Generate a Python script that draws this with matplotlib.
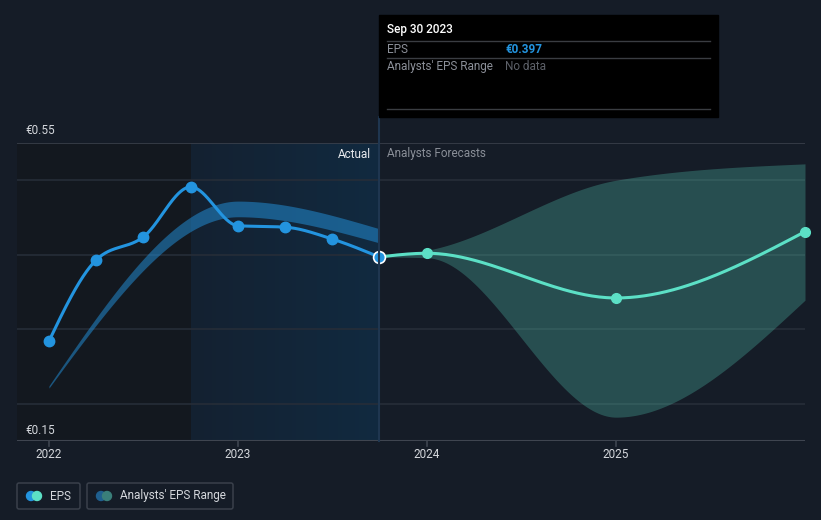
import numpy as np
import matplotlib
matplotlib.use("Agg")
import matplotlib.pyplot as plt
from matplotlib.patches import FancyBboxPatch, Rectangle, Circle
from matplotlib.colors import LinearSegmentedColormap

plt.rcParams['font.family'] = ['Roboto', 'DejaVu Sans']

# ---------------- data ----------------
eps_x = [2022.0, 2022.25, 2022.5, 2022.75, 2023.0, 2023.25, 2023.5, 2023.747]
eps_y = [0.284, 0.393, 0.424, 0.491, 0.439, 0.437, 0.421, 0.397]

past_band_x = [2022.0, 2023.0, 2023.747]
past_band_lo = [0.221, 0.451, 0.416]
past_band_hi = [0.224, 0.472, 0.435]

fc_x = [2023.747, 2024.0, 2025.0, 2026.0]
fc_y = [0.397, 0.402, 0.342, 0.431]
fc_lo = [0.397, 0.396, 0.182, 0.339]
fc_hi = [0.397, 0.406, 0.500, 0.522]

year_ticks = [2022, 2023, 2024, 2025]
year_labels = ["2022", "2023", "2024", "2025"]
y_labels = ["€0.55", "€0.15"]
grid_vals = [0.2, 0.3, 0.4, 0.5]

# ---------------- helpers ----------------
def monotone(x, y, n=80):
    x = np.asarray(x, float); y = np.asarray(y, float)
    h = np.diff(x); s = np.diff(y) / h
    m = np.zeros_like(x)
    for k in range(1, len(x) - 1):
        p = (s[k-1] * h[k] + s[k] * h[k-1]) / (h[k-1] + h[k])
        m[k] = (np.sign(s[k-1]) + np.sign(s[k])) * min(abs(s[k-1]), abs(s[k]), 0.5 * abs(p))
    if len(x) > 2:
        m[0] = (3 * s[0] - m[1]) / 2
        m[-1] = (3 * s[-1] - m[-2]) / 2
    else:
        m[0] = m[-1] = s[0]
    xs, ys = [], []
    for k in range(len(x) - 1):
        t = np.linspace(0, 1, n)
        h00 = 2*t**3 - 3*t**2 + 1; h10 = t**3 - 2*t**2 + t
        h01 = -2*t**3 + 3*t**2; h11 = t**3 - t**2
        xs.append(x[k] + t * h[k])
        ys.append(h00*y[k] + h10*h[k]*m[k] + h01*y[k+1] + h11*h[k]*m[k+1])
    return np.concatenate(xs), np.concatenate(ys)

W, H = 821, 520
BG = '#151c27'
fig = plt.figure(figsize=(W/100, H/100), dpi=100, facecolor=BG)

L, R, T, B = 17, 805, 143, 441
ax = fig.add_axes([L/W, 1 - B/H, (R-L)/W, (B-T)/H])
ax.set_facecolor(BG)
x0, x1 = 2021.831, 2026.0
for sp in ax.spines.values():
    sp.set_visible(False)
ax.set_xticks([]); ax.set_yticks([])

# shaded regions
ax.axvspan(x0, 2022.75, color='#13181f', zorder=0, lw=0)
grad = LinearSegmentedColormap.from_list('g', ['#142131', '#112a40'])
ax.imshow(np.linspace(0, 1, 256).reshape(1, -1), cmap=grad, aspect='auto',
          extent=[2022.75, 2023.747, 0.15, 0.55], zorder=0.5, interpolation='bilinear')
ax.set_xlim(x0, x1); ax.set_ylim(0.15, 0.55)

# gridlines
for g in grid_vals:
    ax.axhline(g, color='#262d38', lw=1.2, zorder=1)
ax.axhline(0.55, color='#3a404b', lw=1.2, zorder=1)
ax.axhline(0.15, color='#3f4550', lw=1.5, zorder=1)

# past band
bx, blo = monotone(past_band_x, past_band_lo)
_, bhi = monotone(past_band_x, past_band_hi)
ax.fill_between(bx, blo, bhi, color='#2394df', alpha=0.5, lw=0, zorder=2)

# forecast band
fx, flo = monotone(fc_x, fc_lo)
_, fhi = monotone(fc_x, fc_hi)
ax.fill_between(fx, flo, fhi, color='#5ce0c6', alpha=0.26, lw=0, zorder=2)

# forecast line
lx, ly = monotone(fc_x, fc_y)
ax.plot(lx, ly, color='#5ce0c6', lw=2.2, zorder=4, solid_capstyle='round')
ax.plot(fc_x[1:], fc_y[1:], 'o', color='#5ce0c6', ms=7, zorder=5, clip_on=False)

# eps line
ex, ey = monotone(eps_x, eps_y)
ax.plot(ex, ey, color='#2394df', lw=2.2, zorder=4, solid_capstyle='round')
ax.plot(eps_x[:-1], eps_y[:-1], 'o', color='#2394df', ms=7.5, zorder=5)
ax.plot(eps_x[-1:], eps_y[-1:], 'o', color='#2394df', ms=8.5, mec='white', mew=1.2, zorder=6)

# overlay axes in pixel coordinates
ov = fig.add_axes([0, 0, 1, 1], facecolor='none')
ov.set_xlim(0, W); ov.set_ylim(H, 0); ov.axis('off')

# cursor line
ov.plot([378.5, 378.5], [117, 441], color='#1f3650', lw=1.5, zorder=1)

# x tick marks and labels
for t, lab in zip(year_ticks, year_labels):
    px = L + (t - x0) / (x1 - x0) * (R - L)
    ov.plot([px, px], [441, 446], color='#3f4550', lw=1.2)
    ov.text(px, 455, lab, color='#d4d7dc', fontsize=8.5, ha='center', va='center')

ov.text(25, 130, y_labels[0], color='#d4d7dc', fontsize=8.5, ha='left', va='center')
ov.text(25, 430, y_labels[1], color='#d4d7dc', fontsize=8.5, ha='left', va='center')

ov.text(371, 154, 'Actual', color='#e8eaee', fontsize=8.5, ha='right', va='center')
ov.text(387, 154, 'Analysts Forecasts', color='#8a8f98', fontsize=8.5, ha='left', va='center')

# tooltip
ov.add_patch(Rectangle((379, 15), 339, 102, color='#000000', zorder=5))
ov.text(387, 30, 'Sep 30 2023', color='#ffffff', fontsize=8.5, fontweight='medium',
        ha='left', va='center', zorder=6)
for yy in (41, 58, 109):
    ov.plot([387, 710], [yy, yy], color='#3a3d42', lw=1, zorder=6)
ov.text(387, 49.5, 'EPS', color='#8c9099', fontsize=8.5, ha='left', va='center', zorder=6)
ov.text(505, 49.5, '€0.397', color='#2394df', fontsize=8.5, fontweight='bold',
        ha='left', va='center', zorder=6)
ov.text(387, 66.5, "Analysts' EPS Range", color='#8c9099', fontsize=8.5, ha='left', va='center', zorder=6)
ov.text(505, 66.5, 'No data', color='#5d6169', fontsize=8.5, ha='left', va='center', zorder=6)

# legend
for (bx0, bw, c1, c2, lab) in [(17, 63, '#2394df', '#5ce0c6', 'EPS'),
                               (87, 146, '#1f5f8f', '#3a7f7a', "Analysts' EPS Range")]:
    ov.add_patch(FancyBboxPatch((bx0, 483), bw, 26, boxstyle='round,pad=0,rounding_size=2',
                                fc='none', ec='#3a404b', lw=1.1))
    ov.add_patch(Circle((bx0 + 14, 496), 4.5, color=c1, zorder=3))
    ov.add_patch(Circle((bx0 + 20, 496), 4.5, color=c2, zorder=4))
    ov.text(bx0 + 33, 496, lab, color='#d4d7dc', fontsize=8.5, ha='left', va='center')

fig.savefig('out.png', dpi=100, facecolor=BG)
